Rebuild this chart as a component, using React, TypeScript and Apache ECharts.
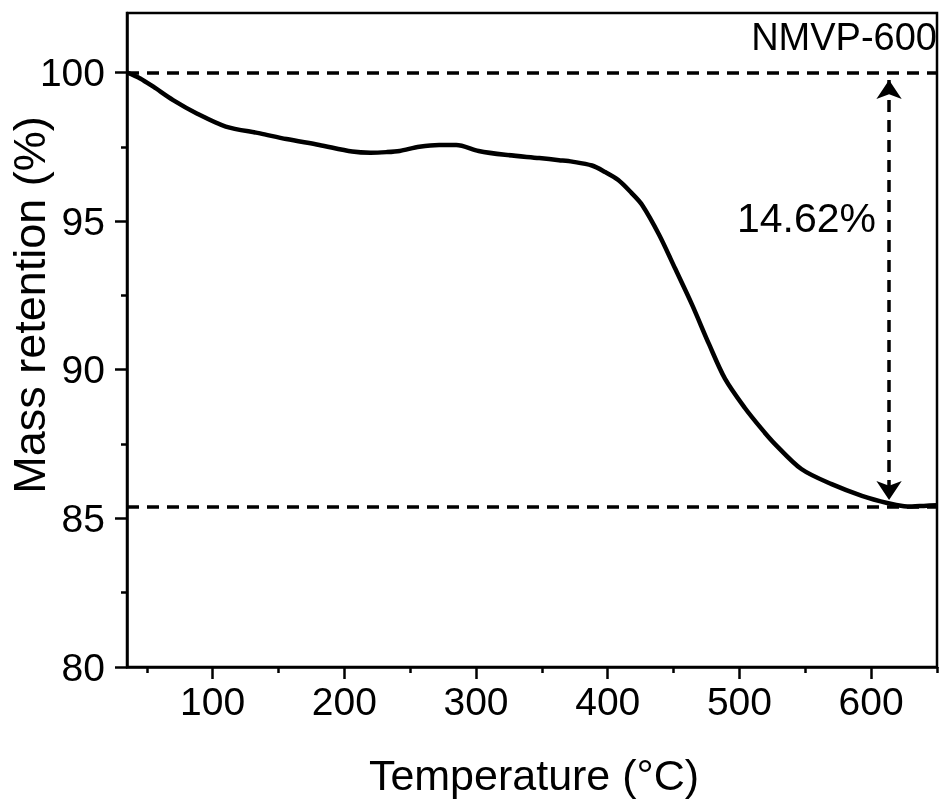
import React, { useEffect, useRef } from "react";
import * as echarts from "echarts";

const temperature = [
  35, 45, 55, 70, 88, 110, 136, 156, 181, 206, 220, 232, 242, 257, 272, 285,
  302, 322, 348, 363, 373, 388, 398, 408, 418, 426, 439, 451, 464, 477, 489,
  504, 517, 527, 547, 570, 593, 613, 625, 631, 640, 650,
];
const massRetention = [
  100.0, 99.8, 99.52, 99.07, 98.62, 98.18, 97.95, 97.76, 97.56, 97.34, 97.3,
  97.32, 97.36, 97.5, 97.56, 97.56, 97.36, 97.23, 97.12, 97.05, 97.0, 96.87,
  96.65, 96.38, 95.95, 95.55, 94.54, 93.42, 92.19, 90.85, 89.7, 88.72, 88.0,
  87.5, 86.66, 86.15, 85.76, 85.51, 85.41, 85.4, 85.42, 85.44,
];
const xMajorTicks = [100, 200, 300, 400, 500, 600];
const xMinorTicks = [50, 150, 250, 350, 450, 550, 650];
const yMajorTicks = [80, 85, 90, 95, 100];
const yMinorTicks = [82.5, 87.5, 92.5, 97.5];
const initialMass = 100;
const finalMass = 85.38;
const arrowTemp = 613.6;
const arrowTop = 99.75;
const arrowBottom = 85.62;
const lossLabel = "14.62%";
const sampleLabel = "NMVP-600";
const xTitle = "Temperature (°C)";
const yTitle = "Mass retention (%)";

export default function App() {
  const ref = useRef<HTMLDivElement>(null);
  useEffect(() => {
    const chart = echarts.init(ref.current!, null, { renderer: "svg" });
    const font = "Liberation Sans";
    const axisLineStyle = { color: "#000", width: 2.5 };
    chart.setOption({
      animation: false,
      grid: {
        left: 127,
        top: 13,
        width: 810,
        height: 654,
        show: true,
        borderColor: "#000",
        borderWidth: 2.5,
        backgroundColor: "transparent",
      },
      xAxis: [
        {
          type: "value",
          min: 35,
          max: 650,
          position: "bottom",
          axisLine: { show: true, onZero: false, lineStyle: axisLineStyle },
          splitLine: { show: false },
          axisTick: { show: true, inside: false, length: 12, lineStyle: axisLineStyle, customValues: xMajorTicks },
          axisLabel: { customValues: xMajorTicks, fontSize: 39, fontFamily: font, color: "#000", margin: 15 },
        },
        {
          type: "value",
          min: 35,
          max: 650,
          position: "bottom",
          axisLine: { show: false, onZero: false },
          splitLine: { show: false },
          axisTick: { show: true, inside: false, length: 6, lineStyle: axisLineStyle, customValues: xMinorTicks },
          axisLabel: { show: false },
        },
      ],
      yAxis: [
        {
          type: "value",
          min: 80,
          max: 102,
          position: "left",
          axisLine: { show: true, onZero: false, lineStyle: axisLineStyle },
          splitLine: { show: false },
          axisTick: { show: true, inside: false, length: 12, lineStyle: axisLineStyle, customValues: yMajorTicks },
          axisLabel: { customValues: yMajorTicks, fontSize: 39, fontFamily: font, color: "#000", margin: 22 },
        },
        {
          type: "value",
          min: 80,
          max: 102,
          position: "left",
          axisLine: { show: false, onZero: false },
          splitLine: { show: false },
          axisTick: { show: true, inside: false, length: 6, lineStyle: axisLineStyle, customValues: yMinorTicks },
          axisLabel: { show: false },
        },
      ],
      series: [
        {
          type: "line",
          xAxisIndex: 0,
          yAxisIndex: 0,
          data: temperature.map((t, i) => [t, massRetention[i]]),
          showSymbol: false,
          smooth: 0.3,
          lineStyle: { color: "#000", width: 4.5 },
          markLine: {
            silent: true,
            symbol: ["none", "none"],
            symbolSize: [19, 19],
            label: { show: false },
            lineStyle: { color: "#000", type: [12, 8], width: 3.5 },
            data: [
              { yAxis: initialMass },
              { yAxis: finalMass },
              [
                { coord: [arrowTemp, arrowTop], symbol: "arrow" },
                { coord: [arrowTemp, arrowBottom], symbol: "arrow" },
              ],
            ],
          },
        },
      ],
      graphic: [
        {
          type: "text",
          x: 937,
          y: 37,
          style: { text: sampleLabel, fontSize: 38, fontFamily: font, fill: "#000", align: "right", verticalAlign: "middle" },
        },
        {
          type: "text",
          x: 737,
          y: 218,
          style: { text: lossLabel, fontSize: 41, fontFamily: font, fill: "#000", align: "left", verticalAlign: "middle" },
        },
        {
          type: "text",
          x: 534,
          y: 775,
          style: { text: xTitle, fontSize: 43, fontFamily: font, fill: "#000", align: "center", verticalAlign: "middle" },
        },
        {
          type: "text",
          x: 29,
          y: 305,
          rotation: Math.PI / 2,
          style: { text: yTitle, fontSize: 45, fontFamily: font, fill: "#000", align: "center", verticalAlign: "middle" },
        },
      ],
    });
    return () => chart.dispose();
  }, []);
  return <div ref={ref} style={{ position: "fixed", left: 0, top: 0, width: 941, height: 800 }} />;
}
